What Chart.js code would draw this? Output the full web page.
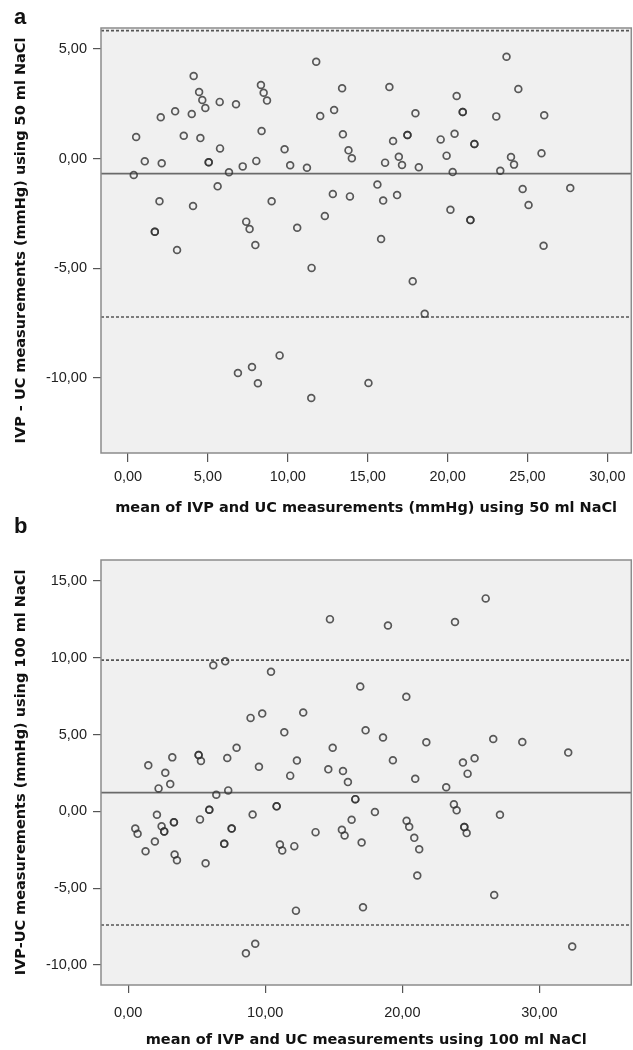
<!DOCTYPE html>
<html>
<head>
<meta charset="utf-8">
<script src="https://cdn.jsdelivr.net/npm/chart.js@4.4.1/dist/chart.umd.min.js"></script>
<style>
  body { margin: 0; background: #fff; width: 633px; height: 1050px; overflow: hidden; position: relative; }
  .panel { position: relative; width: 633px; height: 525px; overflow: hidden; }
  .tag { position: absolute; left: 14px; z-index: 2; font: bold 22px "Liberation Sans", Arial, sans-serif; color: #111; }
</style>
</head>
<body>
<div class="tag" style="top:4px">a</div>
<div class="tag" style="top:513px">b</div>
<div class="panel"><canvas id="chartA" width="637" height="525"></canvas></div>
<div class="panel"><canvas id="chartB" width="637" height="525"></canvas></div>
<script>
// panel a: 50 ml NaCl
const meanA = [11.78, 4.11, 8.32, 8.49, 8.70, 13.40, 4.45, 4.65, 4.84, 5.74, 6.76, 2.95, 3.99, 2.05, 12.03, 12.90,
  0.51, 3.49, 4.53, 8.36, 13.45, 5.76, 9.80, 13.80, 14.01, 1.05, 2.11, 5.05, 5.05, 7.18, 8.03, 10.15, 11.20,
  0.36, 6.32, 5.61, 1.97, 4.07, 8.99, 12.82, 13.89, 12.32, 1.68, 1.68, 3.07, 7.40, 7.61, 10.59, 7.97, 11.49,
  9.49, 7.76, 6.88, 8.13, 11.47, 15.05, 23.69, 16.36, 24.43, 20.57, 17.99, 20.95, 20.95, 23.05, 26.05,
  16.59, 17.49, 17.49, 19.57, 20.44, 21.68, 21.68, 16.95, 16.09, 17.15, 18.20, 19.94, 20.32, 23.97, 24.16,
  23.30, 25.88, 15.61, 16.84, 15.97, 24.70, 27.68, 25.07, 20.18, 21.43, 21.43, 15.84, 26.01, 17.82, 18.57];
const diffA = [4.42, 3.77, 3.36, 3.01, 2.65, 3.21, 3.04, 2.68, 2.31, 2.59, 2.48, 2.16, 2.04, 1.89, 1.95, 2.22,
  0.99, 1.05, 0.94, 1.26, 1.11, 0.47, 0.43, 0.38, 0.02, -0.12, -0.21, -0.16, -0.16, -0.35, -0.10, -0.30, -0.41,
  -0.74, -0.62, -1.26, -1.94, -2.16, -1.94, -1.61, -1.72, -2.61, -3.33, -3.33, -4.16, -2.87, -3.21, -3.15, -3.94, -4.98,
  -8.97, -9.50, -9.77, -10.24, -10.91, -10.23, 4.65, 3.27, 3.18, 2.86, 2.07, 2.13, 2.13, 1.93, 1.98,
  0.81, 1.08, 1.08, 0.88, 1.14, 0.67, 0.67, 0.09, -0.18, -0.29, -0.39, 0.14, -0.61, 0.08, -0.27,
  -0.55, 0.25, -1.18, -1.66, -1.91, -1.38, -1.34, -2.11, -2.33, -2.80, -2.80, -3.66, -3.97, -5.59, -7.07];
const limitsA = [5.84, -0.68, -7.22];   // upper LoA, mean, lower LoA
const xTicksA = [0, 5, 10, 15, 20, 25, 30];
const yTicksA = [5, 0, -5, -10];

// panel b: 100 ml NaCl
const meanB = [14.72, 6.21, 7.08, 10.42, 16.93, 8.93, 9.78, 12.77, 11.39, 17.32, 7.91, 14.92, 26.08, 18.95, 23.84,
  20.29, 18.59, 21.75, 26.63, 28.75, 32.10, 19.31, 24.42, 25.27, 20.94, 24.76, 23.20, 18.00, 23.76, 23.96,
  27.12, 20.31, 20.50, 24.52, 24.52, 24.69, 20.87, 17.03, 21.23, 21.09, 26.70, 17.13, 32.39,
  1.47, 3.22, 5.14, 5.14, 5.31, 7.23, 9.54, 12.31, 11.82, 14.60, 15.67, 16.03, 2.71, 3.07, 2.22, 7.30, 6.43,
  16.57, 16.57, 10.83, 10.83, 5.92, 5.92, 9.08, 2.10, 5.24, 16.30, 3.34, 3.34, 0.52, 0.69, 2.44, 2.63, 2.63,
  7.55, 7.55, 13.67, 15.59, 15.79, 1.95, 1.27, 7.01, 7.01, 11.07, 11.24, 12.12, 3.39, 3.56, 5.65, 12.24, 9.27, 8.59];
const diffB = [12.52, 9.52, 9.78, 9.09, 8.13, 6.09, 6.37, 6.44, 5.15, 5.28, 4.15, 4.15, 13.87, 12.11, 12.33,
  7.46, 4.81, 4.50, 4.72, 4.52, 3.83, 3.33, 3.18, 3.46, 2.13, 2.46, 1.57, -0.04, 0.46, 0.07,
  -0.22, -0.61, -1.00, -1.02, -1.02, -1.41, -1.72, -2.02, -2.46, -4.17, -5.44, -6.24, -8.79,
  3.00, 3.52, 3.67, 3.67, 3.28, 3.48, 2.91, 3.31, 2.33, 2.74, 2.63, 1.91, 2.52, 1.78, 1.50, 1.37, 1.09,
  0.80, 0.80, 0.33, 0.33, 0.11, 0.11, -0.20, -0.22, -0.52, -0.54, -0.70, -0.70, -1.11, -1.46, -0.96, -1.30, -1.30,
  -1.11, -1.11, -1.35, -1.19, -1.57, -1.96, -2.59, -2.11, -2.11, -2.15, -2.54, -2.26, -2.80, -3.18, -3.37, -6.46, -8.61, -9.24];
const limitsB = [9.85, 1.22, -7.39];
const xTicksB = [0, 10, 20, 30];
const yTicksB = [15, 10, 5, 0, -5, -10];

const fmt = v => v.toFixed(2).replace('.', ',');
const tickFont = { family: 'Liberation Sans', size: 14.5 };
const titleFont = { family: 'DejaVu Sans', weight: 'bold', size: 14.5 };

const plotFrame = {
  id: 'plotFrame',
  beforeDatasetsDraw(chart) {
    const { ctx, chartArea: a } = chart;
    ctx.save();
    ctx.fillStyle = '#f0f0f0';
    ctx.fillRect(a.left, a.top, a.width, a.height);
    ctx.restore();
  },
  afterDraw(chart) {
    const { ctx, chartArea: a } = chart;
    ctx.save();
    ctx.strokeStyle = '#8c8c8c';
    ctx.lineWidth = 1.5;
    ctx.strokeRect(a.left, a.top, a.width, a.height);
    ctx.restore();
  }
};

function makeChart(id, cfg) {
  const [xMin, xMax] = cfg.xRange;
  const line = (v, dash) => ({
    type: 'line',
    data: [{ x: xMin, y: v }, { x: xMax, y: v }],
    borderColor: dash ? '#555' : '#6a6a6a',
    borderWidth: dash ? 1.6 : 1.8,
    borderDash: dash ? [3, 2] : [],
    pointRadius: 0,
    order: 2
  });
  return new Chart(document.getElementById(id), {
    type: 'scatter',
    data: {
      datasets: [
        {
          data: cfg.xs.map((x, i) => ({ x, y: cfg.ys[i] })),
          pointStyle: 'circle',
          pointRadius: 3.4,
          borderWidth: 1.7,
          borderColor: 'rgba(50,50,50,0.8)',
          backgroundColor: 'rgba(0,0,0,0)',
          order: 1
        },
        line(cfg.limits[0], true),
        line(cfg.limits[1], false),
        line(cfg.limits[2], true)
      ]
    },
    options: {
      responsive: false,
      animation: false,
      // canvas is 4px wider than the page; chart.js keeps a few px spare on the right
      layout: { padding: { top: cfg.top, right: 1, left: 0, bottom: 0 } },
      plugins: { legend: { display: false }, tooltip: { enabled: false } },
      scales: {
        x: {
          type: 'linear',
          min: xMin, max: xMax,
          afterBuildTicks: s => { s.ticks = cfg.xTicks.map(v => ({ value: v })); },
          afterFit: s => { s.height = cfg.xHeight; s.paddingLeft = 0; s.paddingRight = 0; },
          border: { display: false },
          grid: { drawOnChartArea: false, tickLength: cfg.xTickLen, color: '#555', lineWidth: 1.2 },
          ticks: { callback: fmt, padding: cfg.xTickPad, color: '#222', font: tickFont },
          title: {
            display: true, text: cfg.xTitle, color: '#111', font: titleFont,
            padding: { top: 0, bottom: cfg.xTitlePad }
          }
        },
        y: {
          type: 'linear',
          min: cfg.yRange[0], max: cfg.yRange[1],
          afterBuildTicks: s => { s.ticks = cfg.yTicks.map(v => ({ value: v })); },
          afterFit: s => { s.width = 101; s.paddingTop = 0; s.paddingBottom = 0; },
          border: { display: false },
          grid: { drawOnChartArea: false, tickLength: 8, color: '#555', lineWidth: 1.2 },
          ticks: { callback: fmt, padding: 6, color: '#222', font: tickFont },
          title: {
            display: true, text: cfg.yTitle, color: '#111', font: titleFont,
            padding: { top: 13, bottom: 0 }
          }
        }
      }
    },
    plugins: [plotFrame]
  });
}

makeChart('chartA', {
  xs: meanA, ys: diffA, limits: limitsA, xTicks: xTicksA, yTicks: yTicksA,
  xRange: [-1.69, 31.5], yRange: [-13.42, 5.96], top: 28, xHeight: 72,
  xTickLen: 9, xTickPad: 6, xTitlePad: 8,
  xTitle: 'mean of IVP and UC measurements (mmHg) using 50 ml NaCl',
  yTitle: 'IVP - UC measurements (mmHg) using 50 ml NaCl'
});

makeChart('chartB', {
  xs: meanB, ys: diffB, limits: limitsB, xTicks: xTicksB, yTicks: yTicksB,
  xRange: [-1.98, 36.7], yRange: [-11.3, 16.37], top: 35, xHeight: 65,
  xTickLen: 8, xTickPad: 11, xTitlePad: 1,
  xTitle: 'mean of IVP and UC measurements using 100 ml NaCl',
  yTitle: 'IVP-UC measurements (mmHg) using 100 ml NaCl'
});
</script>
</body>
</html>
